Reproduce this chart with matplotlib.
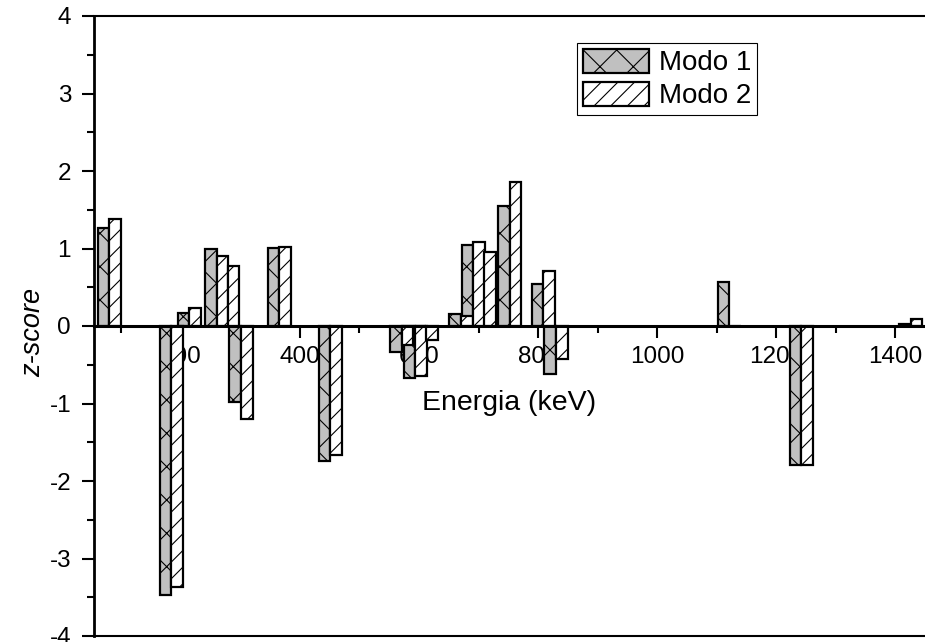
import numpy as np
import matplotlib
matplotlib.use('Agg')
import matplotlib.pyplot as plt
from matplotlib.ticker import MultipleLocator

# energias (keV) e z-scores
energia = [79.5, 184, 214, 260, 278.5, 301, 365, 451, 571, 594, 612,
           670.5, 691, 710, 752, 809, 830, 1121, 1242, 1426]
modo1 = [1.27, -3.47, 0.17, 0.99, 0.0, -0.98, 1.01, -1.74, -0.34, -0.67, 0.0,
         0.15, 1.05, 0.0, 1.55, 0.54, -0.62, 0.57, -1.79, 0.03]
modo2 = [1.38, -3.37, 0.23, 0.90, 0.77, -1.20, 1.02, -1.67, -0.25, -0.64, -0.18,
         0.13, 1.09, 0.96, 1.86, 0.71, -0.42, 0.0, -1.79, 0.09]
largura = 19.5

plt.rcParams['font.family'] = ['Liberation Sans', 'DejaVu Sans']
plt.rcParams['axes.unicode_minus'] = False
plt.rcParams['hatch.linewidth'] = 0.8

fig = plt.figure(figsize=(9.25, 6.42), dpi=100)
ax = fig.add_axes([94 / 925, 6 / 642, 831 / 925, 620 / 642])

e = np.array(energia)
ax.bar(e - largura / 2, modo1, largura, color='#c0c0c0', edgecolor='black',
       linewidth=1.6, hatch='x', label='Modo 1')
ax.bar(e + largura / 2, modo2, largura, color='white', edgecolor='black',
       linewidth=1.6, hatch='//', label='Modo 2')

ax.set_xlim(54, 1450)
ax.set_ylim(-4, 4)
ax.set_axisbelow(True)

# eixo x passa pelo zero; moldura em cima e em baixo
ax.spines['bottom'].set_position(('data', 0))
ax.spines['bottom'].set_linewidth(2.2)
ax.spines['left'].set_linewidth(2.0)
ax.spines['top'].set_linewidth(1.5)
ax.spines['right'].set_visible(False)
ax.axhline(-4, color='black', linewidth=1.5, clip_on=False)

ax.xaxis.set_major_locator(MultipleLocator(200))
ax.xaxis.set_minor_locator(MultipleLocator(100))
ax.yaxis.set_major_locator(MultipleLocator(1))
ax.yaxis.set_minor_locator(MultipleLocator(0.5))
ax.tick_params(which='both', direction='out', width=1.5, labelsize=17.5)
ax.tick_params(which='major', length=8.5)
ax.tick_params(which='minor', length=5)
ax.tick_params(axis='x', pad=6)
ax.tick_params(axis='y', pad=8)
ax.tick_params(top=False, right=False)

ax.set_xlabel('Energia (keV)', fontsize=20.5)
ax.xaxis.set_label_coords(0.5, 0.397)
ax.set_ylabel('z-score', fontsize=19.5, style='italic')
ax.yaxis.set_label_coords(-0.058, 0.49)

leg = ax.legend(loc='upper left', bbox_to_anchor=(577 / 925, 599 / 642),
                bbox_transform=fig.transFigure, borderaxespad=0,
                fontsize=20, handlelength=2.4, handleheight=0.95,
                handletextpad=0.36, labelspacing=0.2, borderpad=0.2,
                fancybox=False, framealpha=1)
leg.get_frame().set_edgecolor('black')
leg.get_frame().set_linewidth(0.8)

fig.savefig('out.png', dpi=100)
